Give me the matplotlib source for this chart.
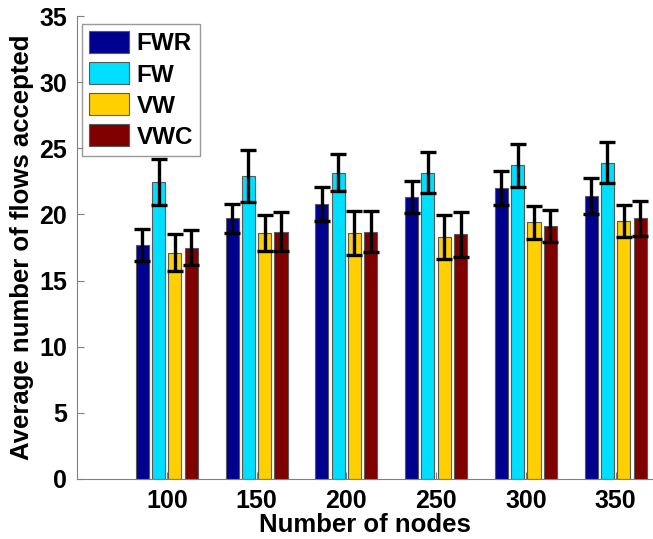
"""Grouped bar chart: average number of accepted flows vs. number of nodes."""

import matplotlib

matplotlib.use("Agg")
import matplotlib.pyplot as plt
import numpy as np

NODES = [100, 150, 200, 250, 300, 350]
SERIES = ["FWR", "FW", "VW", "VWC"]
COLORS = ["#00008F", "#00DFFF", "#FFCF00", "#800000"]

fwr_mean = [17.7, 19.7, 20.8, 21.3, 22.0, 21.4]
fw_mean = [22.45, 22.9, 23.15, 23.15, 23.7, 23.9]
vw_mean = [17.1, 18.6, 18.6, 18.3, 19.4, 19.5]
vwc_mean = [17.5, 18.7, 18.7, 18.5, 19.1, 19.7]

fwr_err = [1.2, 1.1, 1.3, 1.2, 1.25, 1.35]
fw_err = [1.75, 1.95, 1.4, 1.55, 1.6, 1.55]
vw_err = [1.4, 1.35, 1.65, 1.65, 1.25, 1.2]
vwc_err = [1.3, 1.45, 1.55, 1.7, 1.2, 1.3]

means = [fwr_mean, fw_mean, vw_mean, vwc_mean]
errs = [fwr_err, fw_err, vw_err, vwc_err]

plt.rcParams["font.family"] = ["Liberation Sans", "DejaVu Sans"]
plt.rcParams["font.weight"] = "bold"

W, H = 653, 539
fig = plt.figure(figsize=(W / 100, H / 100), dpi=100)
ax = fig.add_axes([77 / W, 1 - 479 / H, 1 - 77 / W, (479 - 16) / H])

x = np.array(NODES, dtype=float)
group_w = 50 * 4 / 5.5
pitch = group_w / 4
bar_w = 0.8 * pitch
for k, (name, col) in enumerate(zip(SERIES, COLORS)):
    xs = x + (k - 1.5) * pitch
    ax.bar(xs, means[k], width=bar_w, color=col, edgecolor="0.35", linewidth=0.8, label=name, zorder=2)
    ax.errorbar(xs, means[k], yerr=errs[k], fmt="none", ecolor="black", elinewidth=2.4,
                capsize=5.5, capthick=2.4, zorder=3)

ax.set_xlim(50, 100 + (W - 165.5) / 1.8)
ax.set_ylim(0, 35)
ax.set_xticks(NODES)
ax.set_yticks(range(0, 36, 5))
ax.tick_params(direction="in", length=5, color="0.5", labelsize=18, pad=7)
for lab in ax.get_xticklabels() + ax.get_yticklabels():
    lab.set_fontweight("bold")
for s in ("top", "right"):
    ax.spines[s].set_visible(False)
for s in ("left", "bottom"):
    ax.spines[s].set_color("0.5")
    ax.spines[s].set_linewidth(0.8)

ax.set_xlabel("Number of nodes", fontsize=18.5, fontweight="bold", labelpad=0)
ax.set_ylabel("Average number of flows accepted", fontsize=18.5, fontweight="bold", labelpad=4)

leg = ax.legend(loc="upper left", bbox_to_anchor=(82 / W, 1 - 24 / H), bbox_transform=fig.transFigure,
                borderaxespad=0, fancybox=False, frameon=True, fontsize=17.5,
                handlelength=1.65, handleheight=1.0, handletextpad=0.3, labelspacing=0.28,
                borderpad=0.3)
leg.get_frame().set_edgecolor("0.5")
leg.get_frame().set_linewidth(1.0)
for t in leg.get_texts():
    t.set_fontweight("bold")
for p in leg.get_patches():
    p.set_edgecolor("0.35")

fig.savefig("out.png", dpi=100)
